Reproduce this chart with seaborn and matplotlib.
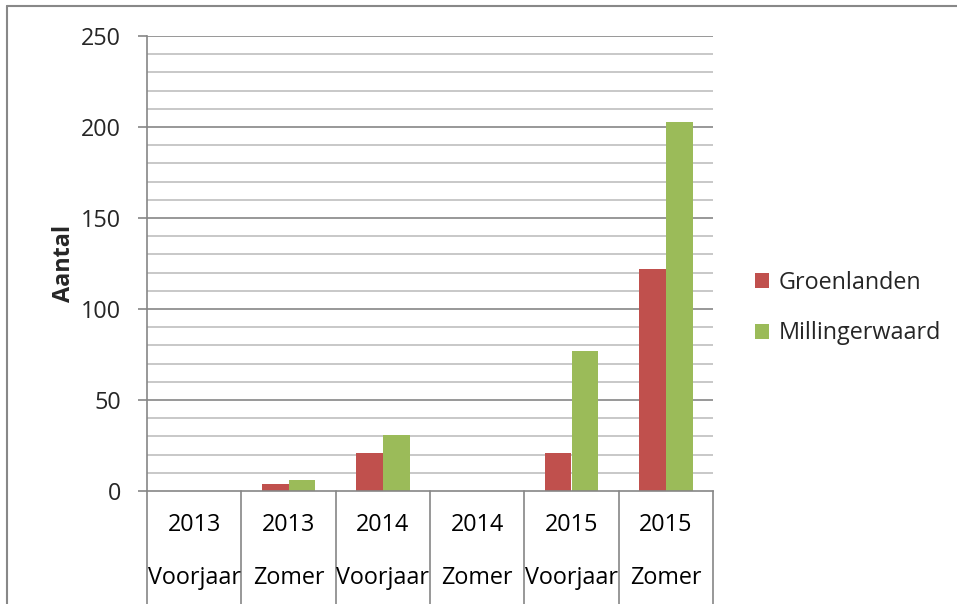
import matplotlib
matplotlib.use("Agg")
import matplotlib.pyplot as plt
import matplotlib.transforms as mtransforms
from matplotlib.lines import Line2D
from matplotlib.patches import Patch
from matplotlib.ticker import MultipleLocator
import seaborn as sns
import pandas as pd

years = ["2013", "2013", "2014", "2014", "2015", "2015"]
seasons = ["Voorjaar", "Zomer", "Voorjaar", "Zomer", "Voorjaar", "Zomer"]
groenlanden = [0, 4, 21, 0, 21, 122]
millingerwaard = [0, 6, 31, 0, 77, 203]
series_names = ["Groenlanden", "Millingerwaard"]
colors = ["#C0504D", "#9BBB59"]

cats = [f"{y} {s}" for y, s in zip(years, seasons)]
df = pd.DataFrame({
    "cat": cats * 2,
    "value": groenlanden + millingerwaard,
    "series": [series_names[0]] * 6 + [series_names[1]] * 6,
})

sns.set_theme(style="white")
plt.rcParams["font.family"] = ["Open Sans", "DejaVu Sans"]
FS = 16.8

fig = plt.figure(figsize=(9.57, 6.04), dpi=100)
W, H = 957, 604
ax = fig.add_axes([147 / W, 1 - 491 / H, (713 - 147) / W, (491 - 36) / H])

sns.barplot(data=df, x="cat", y="value", hue="series", order=cats,
            hue_order=series_names, palette=colors, width=0.571, gap=0,
            saturation=1, ax=ax, legend=False, linewidth=0)

ax.set_xlim(-0.5, 5.5)
ax.set_ylim(0, 250)
ax.yaxis.set_major_locator(MultipleLocator(50))
ax.yaxis.set_minor_locator(MultipleLocator(10))
ax.grid(False)
ax.set_axisbelow(True)
for v in range(10, 251, 10):
    major = v % 50 == 0
    ax.axhline(v, color="#868686" if major else "#BFBFBF", lw=1.2, zorder=0)

for s in ["top", "right"]:
    ax.spines[s].set_visible(False)
for s in ["left", "bottom"]:
    ax.spines[s].set_color("#868686")
    ax.spines[s].set_linewidth(1.2)

ax.set_yticks([0, 50, 100, 150, 200, 250])
ax.set_yticklabels(["0", "50", "100", "150", "200", "250"])
ax.tick_params(axis="y", which="major", direction="out", length=6.5, width=1.2,
               color="#868686", labelsize=FS, pad=12, left=True)
ax.tick_params(axis="y", which="minor", length=0)
ax.set_xticks([])
ax.set_xlabel("")
ax.set_ylabel("Aantal", fontsize=FS, fontweight="bold", labelpad=4)

trans = mtransforms.blended_transform_factory(ax.transData, ax.transAxes)
ax_h = 491 - 36
y_year = -(525 - 491) / ax_h
y_season = -(578 - 491) / ax_h
y_bottom = -(604 - 491) / ax_h
for i in range(6):
    ax.text(i, y_year, years[i], transform=trans, ha="center", va="center",
            fontsize=FS, color="black")
    ax.text(i, y_season, seasons[i], transform=trans, ha="center", va="center",
            fontsize=FS, color="black")
for xb in [-0.5 + k for k in range(7)]:
    ax.plot([xb, xb], [0, y_bottom], transform=trans, color="#868686",
            lw=1.2, clip_on=False)

handles = [Patch(facecolor=c, edgecolor="none") for c in colors]
fig.legend(handles, series_names, loc="center left",
           bbox_to_anchor=(755 / W, 1 - 308 / H), frameon=False,
           fontsize=FS, handlelength=0.6, handleheight=0.6,
           handletextpad=0.4, labelspacing=1.15, borderpad=0, borderaxespad=0)

fig.add_artist(Line2D([7 / W, 7 / W], [0, 1 - 6 / H], transform=fig.transFigure,
                      color="#888888", lw=1.5))
fig.add_artist(Line2D([7 / W, 1], [1 - 6 / H, 1 - 6 / H], transform=fig.transFigure,
                      color="#888888", lw=1.5))

fig.savefig("out.png", dpi=100, facecolor="white")
